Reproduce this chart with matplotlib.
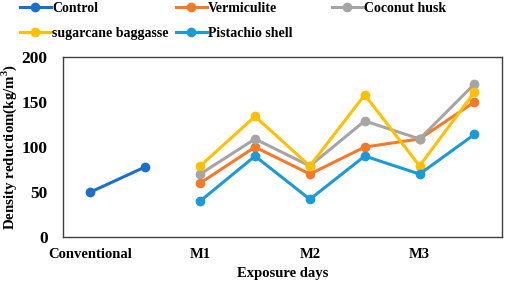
import numpy as np
import matplotlib
matplotlib.use("Agg")
import matplotlib.pyplot as plt

# Kategori sumbu x (8 posisi, label tiap dua posisi)
kategori = ["Conventional", "", "M1", "", "M2", "", "M3", ""]

# Data tiap seri (posisi x, nilai)
x_control = [0, 1]
control = [50, 78]

x_bahan = [2, 3, 4, 5, 6, 7]
vermiculite = [60, 100, 70, 100, 109, 150]
coconut_husk = [70, 109, 79, 129, 109, 170]
sugarcane = [79, 134, 79, 158, 79, 161]
pistachio = [40, 90, 42, 90, 70, 114]

plt.rcParams["font.family"] = ["Liberation Serif", "DejaVu Serif"]
plt.rcParams["font.weight"] = "bold"
plt.rcParams["mathtext.fontset"] = "custom"
plt.rcParams["mathtext.rm"] = "Liberation Serif:bold"

fig = plt.figure(figsize=(5.05, 2.85), dpi=100)
ax = fig.add_axes([0.1248, 0.168, 0.869, 0.632])

gaya = dict(linewidth=2.2, marker="o", markersize=6)
h_ctrl, = ax.plot(x_control, control, color="#1a6fc9", label="Control", **gaya)
h_verm, = ax.plot(x_bahan, vermiculite, color="#f47a2a", label="Vermiculite", **gaya)
h_coco, = ax.plot(x_bahan, coconut_husk, color="#a5a5a5", label="Coconut husk", **gaya)
h_sugar, = ax.plot(x_bahan, sugarcane, color="#ffc000", label="sugarcane baggasse", **gaya)
h_pist, = ax.plot(x_bahan, pistachio, color="#1b9ad8", label="Pistachio shell", **gaya)

ax.set_xlim(-0.5, 7.5)
ax.set_ylim(0, 200)
ax.set_yticks([0, 50, 100, 150, 200])
ax.set_xticks(range(len(kategori)))
ax.set_xticklabels(kategori)
ax.tick_params(axis="y", length=0, labelsize=12.5, pad=11)
ax.tick_params(axis="x", length=0, labelsize=10.5, pad=8)
for s in ax.spines.values():
    s.set_color("#404040")
    s.set_linewidth(1.0)

ax.set_xlabel("Exposure days", fontsize=10.5, fontweight="bold", labelpad=4)
ax.set_ylabel(r"Density reductiom(kg/m$^{3}$)", fontsize=10.7,
              fontweight="bold")
ax.yaxis.set_label_coords(-0.1, 0.5)

# Legenda: tiga kolom, masing-masing dipasang terpisah
kolom = [([h_ctrl, h_sugar], 20), ([h_verm, h_pist], 176), ([h_coco], 332)]
for handles, x_px in kolom:
    fig.legend(handles=handles, loc="upper left",
               bbox_to_anchor=(x_px / 505, 0.993), frameon=False, fontsize=10,
               handlelength=2.2, handletextpad=0.1, labelspacing=0.85,
               borderpad=0.0, borderaxespad=0.0)

fig.savefig("out.png", dpi=100)
